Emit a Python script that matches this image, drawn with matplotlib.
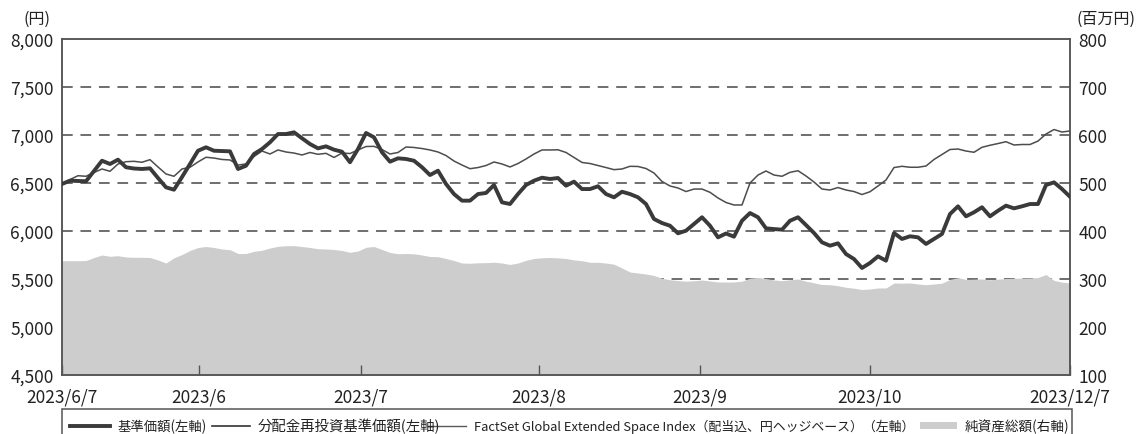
import matplotlib
matplotlib.use("Agg")
import matplotlib.pyplot as plt
from matplotlib.lines import Line2D
from matplotlib.patches import Rectangle
from matplotlib.ticker import FuncFormatter, FixedLocator
import numpy as np

plt.rcParams['font.family'] = ['Noto Sans CJK JP', 'DejaVu Sans']

# ---- data ----
nav = [6490, 6524, 6521, 6518, 6625, 6732, 6698, 6743, 6664, 6651,
       6646, 6653, 6552, 6455, 6430, 6562, 6698, 6836, 6872, 6836,
       6833, 6830, 6646, 6680, 6802, 6854, 6924, 7010, 7010, 7028,
       6966, 6906, 6861, 6882, 6847, 6826, 6716, 6854, 7021, 6976,
       6820, 6722, 6757, 6750, 6732, 6664, 6583, 6628, 6490, 6385,
       6316, 6316, 6385, 6396, 6479, 6299, 6281, 6385, 6479, 6524,
       6555, 6542, 6552, 6472, 6514, 6437, 6437, 6466, 6385, 6351,
       6409, 6385, 6351, 6281, 6125, 6083, 6055, 5976, 6003, 6073,
       6143, 6055, 5934, 5974, 5941, 6107, 6187, 6143, 6028, 6020,
       6014, 6107, 6143, 6062, 5979, 5882, 5847, 5872, 5760, 5708,
       5615, 5667, 5736, 5691, 5979, 5917, 5945, 5934, 5865, 5917,
       5969, 6177, 6257, 6153, 6195, 6247, 6153, 6211, 6264, 6236,
       6257, 6281, 6281, 6479, 6507, 6437, 6357]

nav_reinvest = list(nav)  # no distributions: identical to nav

index_vals = [6490, 6536, 6576, 6570, 6609, 6646, 6622, 6698, 6722, 6726,
              6716, 6743, 6667, 6594, 6570, 6646, 6664, 6719, 6768, 6760,
              6745, 6740, 6687, 6698, 6776, 6833, 6802, 6844, 6823, 6812,
              6792, 6818, 6799, 6809, 6766, 6812, 6807, 6844, 6880, 6882,
              6849, 6802, 6818, 6875, 6870, 6859, 6844, 6823, 6786, 6729,
              6687, 6649, 6661, 6682, 6719, 6698, 6667, 6703, 6750, 6802,
              6844, 6844, 6846, 6818, 6766, 6714, 6703, 6682, 6661, 6639,
              6646, 6674, 6672, 6651, 6604, 6516, 6469, 6448, 6411, 6437,
              6437, 6403, 6344, 6297, 6271, 6271, 6500, 6583, 6625, 6583,
              6570, 6611, 6628, 6573, 6510, 6437, 6427, 6453, 6427, 6411,
              6380, 6409, 6469, 6531, 6661, 6674, 6664, 6664, 6677, 6745,
              6797, 6849, 6854, 6833, 6820, 6872, 6893, 6911, 6930, 6896,
              6901, 6901, 6937, 7010, 7057, 7031, 7042]

net_assets = [338.1, 338.1, 338.1, 338.5, 344.8, 350, 347.3, 348.5, 345.8, 345.2,
              345.2, 344.8, 339.6, 333.3, 344.2, 351, 359.4, 365.6, 367.7, 365.6,
              362.5, 361, 353.1, 353.1, 357.7, 359.8, 364.6, 368.1, 369.4, 369.4,
              367.7, 365.6, 363.1, 362.5, 361.5, 359.4, 355.6, 358.3, 366, 367.7,
              361.5, 355.2, 352.7, 353.1, 352.5, 350, 346.9, 346.5, 342.7, 338.5,
              333.3, 332.7, 333.8, 334, 335, 333.3, 330.2, 333.3, 339, 342.7,
              344.2, 344.8, 344, 342.7, 339.8, 338.1, 334.8, 334.8, 333.3, 330.8,
              322.9, 314.6, 312.5, 310.4, 307.3, 301.5, 298.5, 296.7, 295.4, 296.3,
              297.9, 295.8, 293.8, 293.6, 293.8, 295.4, 301.7, 303.3, 301, 297.9,
              296.5, 298.5, 300, 295.4, 292.1, 288.5, 288.1, 286, 282.7, 280.8,
              278.1, 279.2, 281.3, 281.3, 291.7, 291.3, 291.7, 289.6, 288.1, 289.6,
              291.3, 299, 302.9, 299, 299.6, 300, 298.3, 299.6, 301.2, 301.5,
              301.9, 302.1, 303.1, 309.4, 297, 293.3, 291.7]

x_tick_labels = ["2023/6/7", "2023/6", "2023/7", "2023/8", "2023/9", "2023/10", "2023/12/7"]
x_tick_pos = [0, 17.1, 37.4, 59.6, 79.75, 101, 126]

left_ticks = [4500, 5000, 5500, 6000, 6500, 7000, 7500, 8000]
right_ticks = [100, 200, 300, 400, 500, 600, 700, 800]

labels = ["基準価額(左軸)", "分配金再投資基準価額(左軸)",
          "FactSet Global Extended Space Index（配当込、円ヘッジベース）（左軸）",
          "純資産総額(右軸)"]

# ---- figure ----
W, H = 1140, 435
fig = plt.figure(figsize=(W / 100, H / 100), dpi=100)
L, R, T, B = 62, 1070, 40, 376
ax = fig.add_axes([L / W, 1 - B / H, (R - L) / W, (B - T) / H])
ax2 = ax.twinx()
ax.set_zorder(ax2.get_zorder() + 1)
ax.patch.set_visible(False)

x = np.arange(len(nav))

# area + grid on right axis
ax2.set_ylim(100, 800)
for v in right_ticks[1:-1]:
    ax2.axhline(v, color='#6e6e6e', lw=1.4, ls=(0, (5.5, 4)), zorder=0.5)
ax2.fill_between(x, 100, net_assets, color='#cdcdcd', lw=0, zorder=1)

ax.set_xlim(0, len(nav) - 1)
ax.set_ylim(4500, 8000)
ax.plot(x, index_vals, color='#4d4d4d', lw=1.1, zorder=3, solid_joinstyle='round')
ax.plot(x, nav_reinvest, color='#333333', lw=1.2, zorder=4)
ax.plot(x, nav, color='#3a3a3a', lw=2.8, zorder=5, solid_joinstyle='round')

ax.yaxis.set_major_locator(FixedLocator(left_ticks))
ax.yaxis.set_major_formatter(FuncFormatter(lambda v, p: f"{int(v):,}"))
ax2.yaxis.set_major_locator(FixedLocator(right_ticks))
ax.set_xticks(x_tick_pos)
ax.set_xticklabels(x_tick_labels)

ax.tick_params(axis='y', length=0, pad=6, labelsize=12.5, labelcolor='#222222')
ax2.tick_params(axis='y', length=0, pad=6, labelsize=12.5, labelcolor='#222222')
ax.tick_params(axis='x', direction='in', length=7, width=1, color='#555555',
               pad=9, labelsize=12.5, labelcolor='#222222')
ax2.tick_params(axis='x', length=0)

for a in (ax, ax2):
    for s in a.spines.values():
        s.set_color('#555555')
        s.set_linewidth(1.1)

fig.text(37 / W, 1 - 19 / H, "(円)", ha='center', va='center', fontsize=11.5, color='#222222')
fig.text(1106 / W, 1 - 19 / H, "(百万円)", ha='center', va='center', fontsize=11.5, color='#222222')

# ---- legend (drawn manually in figure pixels) ----
def fx(px):
    return px / W

def fy(py):
    return 1 - py / H

leg_y = 427
fig.add_artist(Rectangle((fx(62), fy(445)), fx(1072) - fx(62), fy(410) - fy(445),
                         transform=fig.transFigure, facecolor='white',
                         edgecolor='#555555', lw=1.1, clip_on=False))
fig.add_artist(Line2D([fx(70), fx(110)], [fy(leg_y), fy(leg_y)], color='#3a3a3a',
                      lw=2.8, transform=fig.transFigure))
fig.add_artist(Line2D([fx(212), fx(250)], [fy(leg_y), fy(leg_y)], color='#333333',
                      lw=1.2, transform=fig.transFigure))
fig.add_artist(Line2D([fx(428), fx(466)], [fy(leg_y), fy(leg_y)], color='#5a5a5a',
                      lw=1.0, transform=fig.transFigure))
fig.add_artist(Rectangle((fx(920), fy(430)), fx(957) - fx(920), fy(423) - fy(430),
                         transform=fig.transFigure, facecolor='#cdcdcd', edgecolor='none'))
text_x = [117, 258, 474, 965]
text_sz = [9.6, 10.4, 9.3, 9.8]
for tx, lab, sz in zip(text_x, labels, text_sz):
    fig.text(fx(tx), fy(leg_y), lab, ha='left', va='center', fontsize=sz, color='#222222')

fig.savefig("out.png", dpi=100)
